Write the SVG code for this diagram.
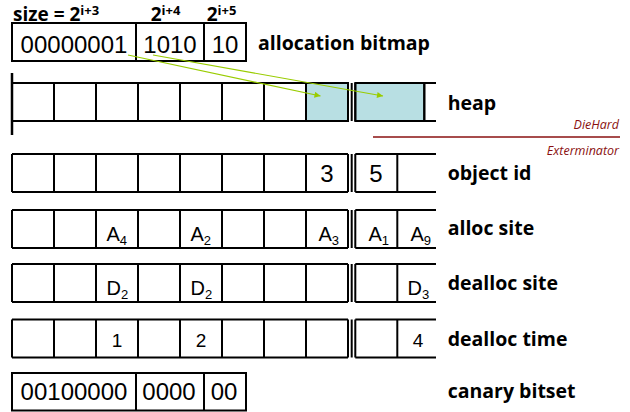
<svg xmlns="http://www.w3.org/2000/svg" width="630" height="412" viewBox="0 0 630 412">
<style>
.c{fill:none;stroke:#000;stroke-width:2}
.b{fill:#b8dfe3;stroke:#000;stroke-width:2}
.lab{font-family:"Open Sans","DejaVu Sans",sans-serif;font-weight:700;font-size:19.5px;fill:#000}
.ttl{font-family:"Open Sans","DejaVu Sans",sans-serif;font-weight:700;font-size:19px;fill:#000}
.big{font-family:"Liberation Sans",Arial,sans-serif;font-size:24px;fill:#000;text-anchor:middle}
.mid{font-family:"Liberation Sans",Arial,sans-serif;font-size:19px;fill:#000;text-anchor:middle}
.sym{font-family:"Liberation Sans",Arial,sans-serif;font-size:20px;fill:#000}
.sub{font-size:13px}
.it{font-family:"Open Sans","DejaVu Sans",sans-serif;font-style:italic;font-size:12.5px;fill:#8a1010;text-anchor:end}
.arr{stroke:#99cc00;stroke-width:1.2;fill:none;marker-end:url(#ah)}
</style>
<defs>
<marker id="ah" viewBox="0 0 10 10" refX="10" refY="5" markerWidth="7" markerHeight="6" markerUnits="userSpaceOnUse" orient="auto">
<path d="M0,0 L10,5 L0,10 z" fill="#99cc00"/>
</marker>
<path id="grid" d="M12,0 H348 M12,38 H348 M12,0 V38 M54,0 V38 M96,0 V38 M138,0 V38 M180,0 V38 M222,0 V38 M264,0 V38 M306,0 V38 M348,0 V38 M351.7,0 V38 M355.3,0 H436 M355.3,38 H436 M355.3,0 V38"/>
</defs>

<g id="title" class="ttl">
<text x="13" y="20.5">size = 2<tspan font-size="13" dy="-6">i+3</tspan></text>
<text x="150.7" y="20.5">2<tspan font-size="13" dy="-6">i+4</tspan></text>
<text x="206.7" y="20.5">2<tspan font-size="13" dy="-6">i+5</tspan></text>
</g>

<g id="bitmap">
<path class="c" d="M12,23 H246 V61 H12 Z M136,23 V61 M204,23 V61"/>
<text class="big" x="74" y="53">00000001</text>
<text class="big" x="170" y="53">1010</text>
<text class="big" x="225" y="53">10</text>
<text class="lab" x="258" y="50">allocation bitmap</text>
</g>

<g id="heap">
<rect class="b" x="306" y="83" width="42" height="38"/>
<rect class="b" x="355.3" y="83" width="69" height="38"/>
<use href="#grid" class="c" transform="translate(0,83)"/>
<path class="c" d="M424.3,83 V121"/>
<path d="M12,73 V135" stroke="#000" stroke-width="2.5"/>
<text class="lab" x="447.7" y="110">heap</text>
</g>

<g id="divider">
<path d="M373,137 H620" stroke="#8a1010" stroke-width="1.3"/>
<text class="it" x="619" y="129">DieHard</text>
<text class="it" x="619" y="154.5">Exterminator</text>
</g>

<g id="objectid">
<use href="#grid" class="c" transform="translate(0,154)"/>
<path class="c" d="M397.3,154 V192"/>
<text class="big" x="327" y="182">3</text>
<text class="big" x="376" y="182">5</text>
<text class="lab" x="447.7" y="180">object id</text>
</g>

<g id="allocsite">
<use href="#grid" class="c" transform="translate(0,210)"/>
<path class="c" d="M397.3,210 V248"/>
<text class="sym" x="106.5" y="240.5">A<tspan class="sub" dy="4">4</tspan></text>
<text class="sym" x="190.5" y="240.5">A<tspan class="sub" dy="4">2</tspan></text>
<text class="sym" x="318.5" y="240.5">A<tspan class="sub" dy="4">3</tspan></text>
<text class="sym" x="368.5" y="240.5">A<tspan class="sub" dy="4">1</tspan></text>
<text class="sym" x="410.5" y="240.5">A<tspan class="sub" dy="4">9</tspan></text>
<text class="lab" x="447.7" y="235">alloc site</text>
</g>

<g id="deallocsite">
<use href="#grid" class="c" transform="translate(0,264)"/>
<path class="c" d="M397.3,264 V302"/>
<text class="sym" x="106.5" y="294.5">D<tspan class="sub" dy="4">2</tspan></text>
<text class="sym" x="190.5" y="294.5">D<tspan class="sub" dy="4">2</tspan></text>
<text class="sym" x="407.5" y="294.5">D<tspan class="sub" dy="4">3</tspan></text>
<text class="lab" x="447.7" y="290">dealloc site</text>
</g>

<g id="dealloctime">
<use href="#grid" class="c" transform="translate(0,319.5)"/>
<path class="c" d="M397.3,319.5 V357.5"/>
<text class="mid" x="117" y="347">1</text>
<text class="mid" x="201" y="347">2</text>
<text class="mid" x="418" y="347">4</text>
<text class="lab" x="447.7" y="346">dealloc time</text>
</g>

<g id="canary">
<path class="c" d="M12,373 H246 V410.5 H12 Z M136,373 V410.5 M204,373 V410.5"/>
<text class="big" x="74" y="400">00100000</text>
<text class="big" x="169" y="400">0000</text>
<text class="big" x="224" y="400">00</text>
<text class="lab" x="447.7" y="398">canary bitset</text>
</g>

<g id="connectors">
<path class="arr" d="M128,55 L320.5,96"/>
<path class="arr" d="M153,55 L383,96"/>
</g>
</svg>
